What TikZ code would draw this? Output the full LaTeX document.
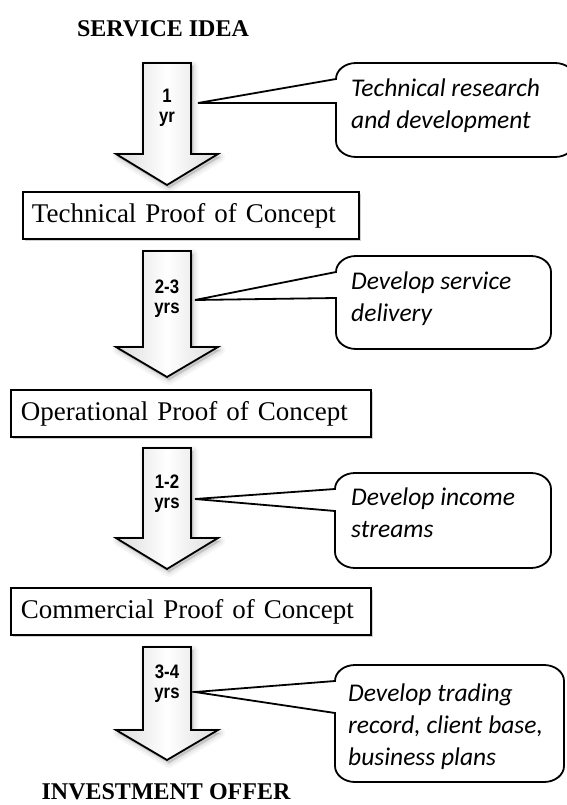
\documentclass[tikz,border=0pt]{standalone}
\usepackage{fontspec}
\setmainfont{Liberation Serif}
\newfontfamily\callfont{Carlito}
\newfontfamily\lblfont[FakeStretch=0.86]{Liberation Sans}
\usetikzlibrary{calc}

\newcommand{\myarrow}[4]{%
  \coordinate (#1-top) at (167,-#2);
  \coordinate (#1-tip) at (167,-#4);
  \foreach \w/\o in {10/0.035,6/0.045,2/0.06} {
    \path[shift={(2,-3)}, draw=black, fill=black, line width=\w pt, opacity=\o, line join=round]
      (143,-#2) -- (191,-#2) -- (191,-#3) -- (218,-#3) -- (167,-#4) -- (116,-#3) -- (143,-#3) -- cycle;
  }
  \path[arrowshape] (143,-#2) -- (191,-#2) -- (191,-#3) -- (218,-#3) -- (167,-#4) -- (116,-#3) -- (143,-#3) -- cycle;
}
\newcommand{\mycallout}[7]{%
  \path[callshape] (#5,-#6) -- (#1,-#7) -- (#1,-#4+16) arc(180:270:20 and 16)
    -- (#2-20,-#4) arc(270:360:20 and 16) -- (#2,-#3-16) arc(0:90:20 and 16)
    -- (#1+20,-#3) arc(90:180:20 and 16) -- cycle;
}

\begin{document}
\begin{tikzpicture}[x=1pt,y=1pt,
  boxnode/.style={draw=black, line width=1.8pt, fill=white, anchor=north west, minimum height=47pt,
    inner xsep=9pt, inner ysep=0pt, align=left, font=\fontsize{27}{32}\selectfont},
  calltext/.style={anchor=west, align=left, inner sep=0pt, font=\callfont\itshape\fontsize{25.5}{32}\selectfont},
  lbl/.style={align=center, inner sep=0pt, font=\lblfont\bfseries\fontsize{19.5}{20}\selectfont},
  titlenode/.style={inner sep=0pt, font=\bfseries\fontsize{24}{28}\selectfont},
  callshape/.style={draw=black, line width=1.8pt, fill=white, line join=miter},
  arrowshape/.style={draw=black, line width=1.8pt, line join=miter, left color=black!14, right color=black!14, middle color=white},
  boxshadow/.style={fill=black, opacity=0.18},
]
\useasboundingbox (0,0) rectangle (566,-805);
\fill[white] (0,0) rectangle (566,-805);

% callouts
\mycallout{336}{575}{63}{157}{198}{103}{103}
\mycallout{336}{551}{256}{349}{195}{300}{298}
\mycallout{335}{551}{473}{568}{195}{499}{511}
\mycallout{335}{564}{665}{782}{195}{692}{713}

% block arrows
\myarrow{a1}{63}{154}{185}
\myarrow{a2}{251}{347}{377}
\myarrow{a3}{448}{538}{569}
\myarrow{a4}{647}{730}{760}

% box shadows
\fill[boxshadow] (24.5,-193.5) rectangle (360.5,-240.5);
\fill[boxshadow] (12.5,-391.5) rectangle (372.5,-438.5);
\fill[boxshadow] (12.5,-589.5) rectangle (372.5,-636.5);

\node[titlenode] (title) at (163,-29) {SERVICE IDEA};
\node[boxnode, text width=318pt] (b1) at (22,-191) {Technical Proof of Concept};
\node[boxnode, inner xsep=10pt, text width=340pt] (b2) at (10,-389) {Operational Proof of Concept};
\node[boxnode, inner xsep=10pt, text width=340pt] (b3) at (10,-587) {Commercial Proof of Concept};
\node[titlenode] (offer) at (166,-792) {INVESTMENT OFFER};

\node[lbl] (l1) at (167,-108) {1\\yr};
\node[lbl] (l2) at (167,-299) {2-3\\yrs};
\node[lbl] (l3) at (167,-494) {1-2\\yrs};
\node[lbl] (l4) at (167,-684) {3-4\\yrs};

\node[calltext] (c1t) at (351,-106) {Technical research\\and development};
\node[calltext] (c2t) at (351,-299) {Develop service\\delivery};
\node[calltext] (c3t) at (351,-513) {Develop income\\streams};
\node[calltext] (c4t) at (348,-727) {Develop trading\\record, client base,\\business plans};
\end{tikzpicture}
\end{document}
